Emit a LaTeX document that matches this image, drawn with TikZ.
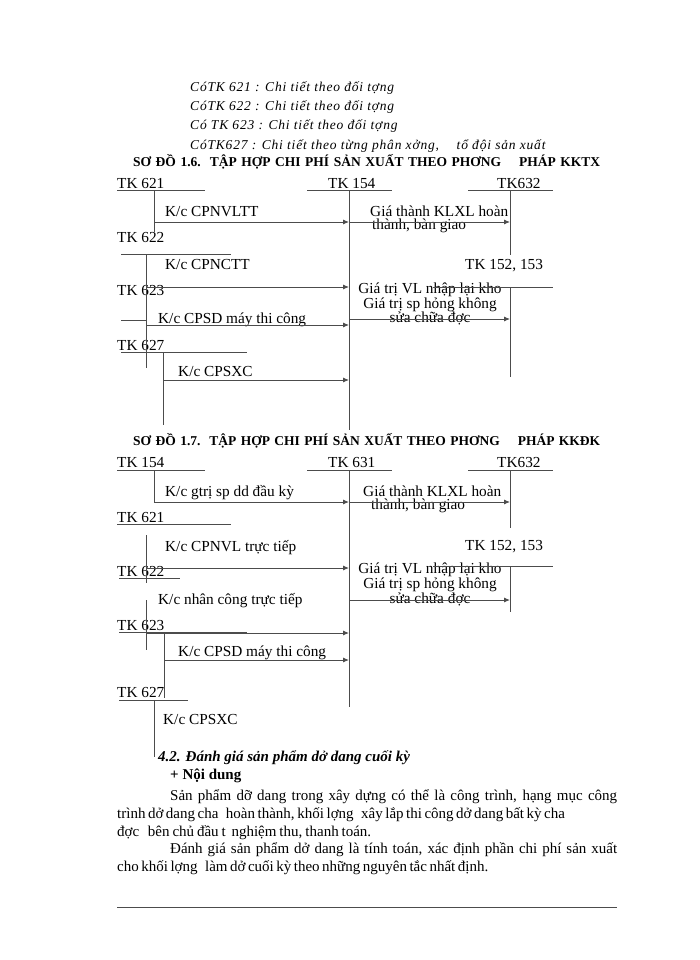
\documentclass[tikz,border=0pt]{standalone}
\usepackage{fontspec}
\setmainfont{Liberation Serif}
\usetikzlibrary{arrows.meta}
\begin{document}
\begin{tikzpicture}[x=1pt,y=-1pt,
  lbl/.style={anchor=base west,inner sep=0pt,font=\fontsize{15.3}{16}\selectfont},
  stack/.style={anchor=base,inner sep=0pt,align=center,font=\fontsize{15.3}{13.5}\selectfont},
  itl/.style={anchor=base west,inner sep=0pt,font=\fontsize{13.5}{15}\selectfont\itshape\addfontfeature{LetterSpace=6}},
  ttl/.style={anchor=base west,inner sep=0pt,font=\fontsize{13.5}{15}\selectfont\bfseries},
  body/.style={anchor=base west,inner sep=0pt,font=\fontsize{15}{16}\selectfont},
  ln/.style={draw=black!70,line width=0.9pt},
  arr/.style={ln,-{Latex[length=6pt,width=5pt]}}]
\useasboundingbox[fill=white] (0,0) rectangle (700,960);

% ---- top italic lines
\node[itl] (c1) at (190,92) {CóTK 621 : Chi tiết theo đối tợng};
\node[itl] (c2) at (190,111) {CóTK 622 : Chi tiết theo đối tợng};
\node[itl] (c3) at (190,130) {Có TK 623 : Chi tiết theo đối tợng};
\node[itl] (c4) at (190,150) {CóTK627 : Chi tiết theo từng phân xởng,\quad\ tổ đội sản xuất};
\node[ttl] (t1) at (133,167) {\makebox[467pt][s]{SƠ ĐỒ 1.6.\ \ TẬP HỢP CHI PHÍ SẢN XUẤT THEO PHƠNG \quad PHÁP KKTX}};

% ---- diagram 1 labels
\node[lbl] (a621) at (117,189) {TK 621};
\node[lbl] (a154) at (328,189) {TK 154};
\node[lbl] (a632) at (497,189) {TK632};
\node[lbl] (l1) at (165,216) {K/c CPNVLTT};
\node[stack,anchor=base west,align=left] (r1) at (370,229.5) {Giá thành KLXL hoàn\\\hspace*{2pt}thành, bàn giao};
\node[lbl] (a622) at (117,242) {TK 622};
\node[lbl] (l2) at (165,269) {K/c CPNCTT};
\node[lbl] (a152) at (465,269) {TK 152, 153};
\node[lbl] (a623) at (117,295) {TK 623};
\node[stack] (r2) at (430,322) {Giá trị VL nhập lại kho\\Giá trị sp hỏng không\\[-1.5pt]sửa chữa đợc};
\node[lbl] (l3) at (158,323) {K/c CPSD máy thi công};
\node[lbl] (a627) at (117,350) {TK 627};
\node[lbl] (l4) at (178,376) {K/c CPSXC};

% ---- diagram 1 coordinates
\coordinate (p621a) at (117,190); \coordinate (p621b) at (205,190);
\coordinate (v621a) at (154,190); \coordinate (v621b) at (154,232);
\coordinate (s1) at (154,222);
\coordinate (p154a) at (307,190); \coordinate (p154b) at (392,190);
\coordinate (v154a) at (349,190); \coordinate (v154b) at (349,430);
\coordinate (p632a) at (468,190); \coordinate (p632b) at (553,190);
\coordinate (v632a) at (510,190); \coordinate (v632b) at (510,255);
\coordinate (e1) at (349,222); \coordinate (f1) at (510,222);
\coordinate (p622a) at (121,254); \coordinate (p622b) at (231,254);
\coordinate (v622a) at (146,254); \coordinate (v622b) at (146,368);
\coordinate (s2) at (146,287); \coordinate (e2) at (349,287);
\coordinate (p152a) at (433,287); \coordinate (p152b) at (553,287);
\coordinate (v152a) at (510,287); \coordinate (v152b) at (510,377);
\coordinate (e5) at (349,319); \coordinate (f5) at (510,319);
\coordinate (p623a) at (121,320); \coordinate (p623b) at (146,320);
\coordinate (s3) at (146,325); \coordinate (e3) at (349,325);
\coordinate (p627a) at (121,352); \coordinate (p627b) at (247,352);
\coordinate (v627a) at (163,352); \coordinate (v627b) at (163,425);
\coordinate (s4) at (163,380); \coordinate (e4) at (349,380);

\draw[ln] (p621a) -- (p621b) (v621a) -- (v621b)
  (p154a) -- (p154b) (v154a) -- (v154b)
  (p632a) -- (p632b) (v632a) -- (v632b)
  (p622a) -- (p622b) (v622a) -- (v622b)
  (p152a) -- (p152b) (v152a) -- (v152b)
  (p623a) -- (p623b)
  (p627a) -- (p627b) (v627a) -- (v627b);
\draw[arr] (s1) -- (e1);
\draw[arr] (e1) -- (f1);
\draw[arr] (s2) -- (e2);
\draw[arr] (s3) -- (e3);
\draw[arr] (e5) -- (f5);
\draw[arr] (s4) -- (e4);

% ---- diagram 2
\node[ttl] (t2) at (133,445) {\makebox[467pt][s]{SƠ ĐỒ 1.7.\ \ TẬP HỢP CHI PHÍ SẢN XUẤT THEO PHƠNG \quad PHÁP KKĐK}};
\node[lbl] (b154) at (117,467) {TK 154};
\node[lbl] (b631) at (328,467) {TK 631};
\node[lbl] (b632) at (497,467) {TK632};
\node[lbl] (m1) at (165,496) {K/c gtrị sp dd đầu kỳ};
\node[stack,anchor=base west,align=left] (q1) at (363,509.5) {Giá thành KLXL hoàn\\\hspace*{8pt}thành, bàn giao};
\node[lbl] (b621) at (117,522) {TK 621};
\node[lbl] (m2) at (165,551) {K/c CPNVL trực tiếp};
\node[lbl] (b152) at (465,550) {TK 152, 153};
\node[lbl] (b622) at (117,576) {TK 622};
\node[stack] (q2) at (430,603) {Giá trị VL nhập lại kho\\Giá trị sp hỏng không\\[-0.5pt]sửa chữa đợc};
\node[lbl] (m3) at (158,604) {K/c nhân công trực tiếp};
\node[lbl] (b623) at (117,630) {TK 623};
\node[lbl] (m4) at (178,656) {K/c CPSD máy thi công};
\node[lbl] (b627) at (117,697) {TK 627};
\node[lbl] (m5) at (163,724) {K/c CPSXC};

\coordinate (q154a) at (117,470); \coordinate (q154b) at (205,470);
\coordinate (w154a) at (154,470); \coordinate (w154b) at (154,502);
\coordinate (g1) at (154,502); \coordinate (h1) at (349,502);
\coordinate (q631a) at (307,470); \coordinate (q631b) at (392,470);
\coordinate (w631a) at (349,470); \coordinate (w631b) at (349,707);
\coordinate (q632a) at (468,470); \coordinate (q632b) at (553,470);
\coordinate (w632a) at (510,470); \coordinate (w632b) at (510,528);
\coordinate (k1) at (510,502);
\coordinate (q621a) at (117,524); \coordinate (q621b) at (231,524);
\coordinate (w621a) at (146,535); \coordinate (w621b) at (146,583);
\coordinate (g2) at (146,568); \coordinate (h2) at (349,568);
\coordinate (q622a) at (119,578); \coordinate (q622b) at (180,578);
\coordinate (w622a) at (146,600); \coordinate (w622b) at (146,650);
\coordinate (q152a) at (433,566); \coordinate (q152b) at (553,566);
\coordinate (w152a) at (510,566); \coordinate (w152b) at (510,612);
\coordinate (h5) at (349,600); \coordinate (k5) at (510,600);
\coordinate (q623a) at (119,632); \coordinate (q623b) at (247,632);
\coordinate (g3) at (146,633); \coordinate (h3) at (349,633);
\coordinate (w623a) at (164,633); \coordinate (w623b) at (164,698);
\coordinate (g4) at (164,660); \coordinate (h4) at (349,660);
\coordinate (q627a) at (119,700); \coordinate (q627b) at (188,700);
\coordinate (w627a) at (154,700); \coordinate (w627b) at (154,757);

\draw[ln] (q154a) -- (q154b) (w154a) -- (w154b)
  (q631a) -- (q631b) (w631a) -- (w631b)
  (q632a) -- (q632b) (w632a) -- (w632b)
  (q621a) -- (q621b) (w621a) -- (w621b)
  (q622a) -- (q622b) (w622a) -- (w622b)
  (q152a) -- (q152b) (w152a) -- (w152b)
  (q623a) -- (q623b) (w623a) -- (w623b)
  (q627a) -- (q627b) (w627a) -- (w627b);
\draw[arr] (g1) -- (h1);
\draw[arr] (h1) -- (k1);
\draw[arr] (g2) -- (h2);
\draw[arr] (h5) -- (k5);
\draw[arr] (g3) -- (h3);
\draw[arr] (g4) -- (h4);

% ---- bottom text
\node[anchor=base west,inner sep=0pt,font=\fontsize{15}{16}\selectfont\bfseries\itshape] (h42) at (158,761) {4.2. Đánh giá sản phẩm dở dang cuối kỳ};
\node[anchor=base west,inner sep=0pt,font=\fontsize{15}{16}\selectfont\bfseries] (nd) at (170,779) {+ Nội dung};
\node[body] (b1) at (170,800) {\makebox[447pt][s]{Sản phẩm dỡ dang trong xây dựng có thể là công trình, hạng mục công}};
\node[body] (b2) at (117,818) {\makebox[443pt][s]{trình dở dang cha \ \ hoàn thành, khối lợng \ \ xây lắp thi công dở dang bất kỳ cha}};
\node[body] (b3) at (117,836) {\makebox[254pt][s]{đợc \ \ bên chủ đầu t \ nghiệm thu, thanh toán.}};
\node[body] (b4) at (170,853) {\makebox[447pt][s]{Đánh giá sản phẩm dở dang là tính toán, xác định phần chi phí sản xuất}};
\node[body] (b5) at (117,871) {\makebox[353pt][s]{cho khối lợng \ \ làm dở cuối kỳ theo những nguyên tắc nhất định.}};
\coordinate (r1) at (117,907); \coordinate (r2) at (617,907);
\draw[draw=black!70,line width=0.7pt] (r1) -- (r2);
\end{tikzpicture}
\end{document}
